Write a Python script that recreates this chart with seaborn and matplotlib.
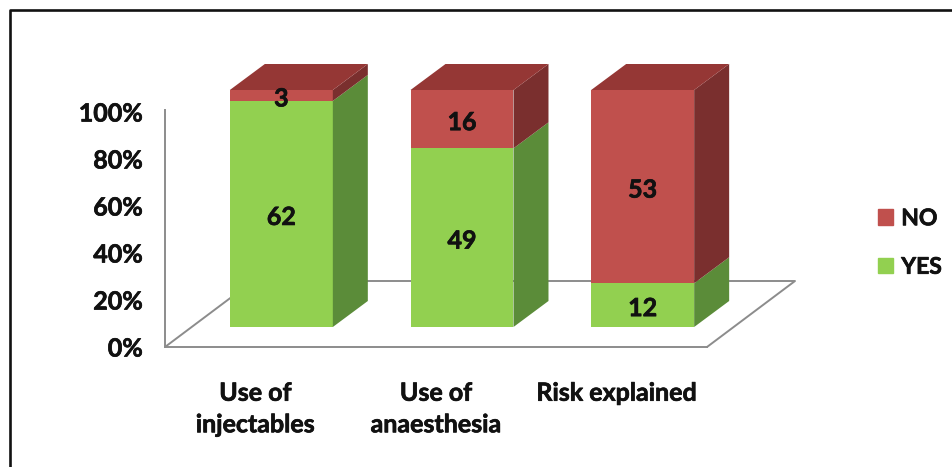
import matplotlib
matplotlib.use("Agg")
import matplotlib.pyplot as plt
from matplotlib.patches import Polygon, Rectangle
from matplotlib.lines import Line2D
import matplotlib.patheffects as pe
import numpy as np
import pandas as pd
import seaborn as sns

categories = ["Use of\ninjectables", "Use of\nanaesthesia", "Risk explained"]
yes_counts = [62, 49, 12]
no_counts = [3, 16, 53]
y_ticks = [0, 20, 40, 60, 80, 100]
y_tick_labels = ["0%", "20%", "40%", "60%", "80%", "100%"]

GREEN, GREEN_SIDE = "#92D050", "#5B8C39"
RED, RED_SIDE, RED_TOP = "#C0504D", "#7A2F2E", "#953735"
AXIS_GREY = "#8C8C8C"
INK = "#111111"
W, H = 952, 467
FONT = "Lato"
THICK = [pe.withStroke(linewidth=0.5, foreground=INK)]

sns.set_theme(style="white")
plt.rcParams["font.family"] = FONT
plt.rcParams["font.weight"] = "bold"
plt.rcParams["text.color"] = INK

df = pd.DataFrame({"cat": categories, "yes": yes_counts, "no": no_counts})
total = df["yes"] + df["no"]
df["yes_pct"] = df["yes"] / total * 100
df["no_pct"] = df["no"] / total * 100

fig = plt.figure(figsize=(W / 100, H / 100), dpi=100, facecolor="white")


def box(x0, x1, y_bottom, y_top):
    return [x0 / W, 1 - y_bottom / H, (x1 - x0) / W, (y_bottom - y_top) / H]


# Outer frame: only the top and left edges are inside the crop
fig.add_artist(Line2D([10 / W, 10 / W, 1], [0, 1 - 10 / H, 1 - 10 / H],
                      color="#111111", linewidth=1.9))

# Front plane of the floor: carries the axis lines and tick labels
ax_wall = fig.add_axes(box(165, 707, 347, 110), facecolor="none")
ax_wall.set_xlim(-0.5, 2.5)
ax_wall.set_ylim(0, 100 * (347 - 110) / 235)
ax_wall.set_yticks(y_ticks, y_tick_labels, fontsize=18, fontweight="bold", color=INK)
ax_wall.set_xticks(range(3), categories, fontsize=18, fontweight="bold",
                   linespacing=1.45, color=INK)
ax_wall.tick_params(length=0, axis="y", pad=16)
ax_wall.tick_params(length=0, axis="x", pad=25)
for lbl in ax_wall.get_xticklabels() + ax_wall.get_yticklabels():
    lbl.set_path_effects(THICK)
sns.despine(ax=ax_wall)
for s in ("left", "bottom"):
    ax_wall.spines[s].set_color(AXIS_GREY)
    ax_wall.spines[s].set_linewidth(1.4)

# Floor back edge, in pixels relative to the wall axes corners
floor = [(165, 347), (253, 281), (795, 281), (707, 347)]
fig.add_artist(Line2D([p[0] / W for p in floor], [1 - p[1] / H for p in floor],
                      color=AXIS_GREY, linewidth=1.4, zorder=1.5))

# Plane of the bar fronts
ax = fig.add_axes(box(191, 733, 327, 90), facecolor="none", zorder=3)
sns.barplot(data=df, x="cat", y="yes_pct", color=GREEN, saturation=1, width=0.57,
            ax=ax, linewidth=0)
sns.barplot(data=df, x="cat", y="no_pct", bottom=df["yes_pct"], color=RED, saturation=1,
            width=0.57, ax=ax, linewidth=0)
ax.set_xlim(-0.5, 2.5)
ax.set_ylim(0, 100)
ax.axis("off")

# Depth of the extruded bars, converted to data units
ddx = 35 / (542 / 3)
ddy = 26 / 2.37
n = len(categories)
for i, p in enumerate(list(ax.patches)):
    side = GREEN_SIDE if i < n else RED_SIDE
    x1 = p.get_x() + p.get_width()
    y0, y1 = p.get_y(), p.get_y() + p.get_height()
    ax.add_patch(Polygon([(x1, y0), (x1 + ddx, y0 + ddy), (x1 + ddx, y1 + ddy), (x1, y1)],
                         facecolor=side, edgecolor="none", clip_on=False, zorder=2))
    if i >= n:
        x0 = p.get_x()
        ax.add_patch(Polygon([(x0, y1), (x0 + ddx, y1 + ddy), (x1 + ddx, y1 + ddy), (x1, y1)],
                             facecolor=RED_TOP, edgecolor="none", clip_on=False, zorder=2))

for container, counts in zip(ax.containers, (yes_counts, no_counts)):
    labels = ax.bar_label(container, labels=[str(v) for v in counts], label_type="center",
                          fontsize=18, fontweight="bold", color=INK, padding=-2.5, zorder=5)
    for t in labels:
        t.set_path_effects(THICK)

handles = [Rectangle((0, 0), 1, 1, color=RED), Rectangle((0, 0), 1, 1, color=GREEN)]
leg = fig.legend(handles, ["NO", "YES"], loc="center left", bbox_to_anchor=(871 / W, 1 - 243 / H),
                 frameon=False, prop={"family": FONT, "weight": "bold", "size": 16.5},
                 handlelength=0.66, handleheight=0.66, handletextpad=0.36, labelspacing=1.2,
                 borderpad=0, borderaxespad=0.3)
for t in leg.get_texts():
    t.set_path_effects(THICK)

fig.savefig("out.png", dpi=100, facecolor="white")
